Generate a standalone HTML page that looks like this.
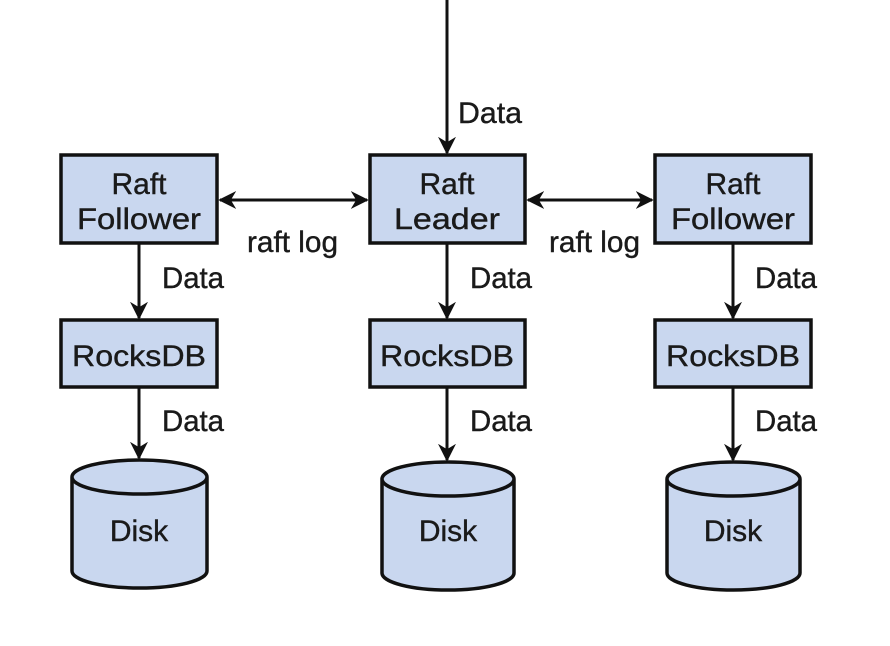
<!DOCTYPE html>
<html><head><meta charset="utf-8"><style>html,body{margin:0;padding:0;background:#fff}svg{display:block}</style></head><body>
<svg width="890" height="646" viewBox="0 0 890 646" xmlns="http://www.w3.org/2000/svg" font-family="Liberation Sans, sans-serif" font-size="30" fill="#1a1a1a">
<defs>
<marker id="a" viewBox="0 0 10 10" refX="9" refY="5" markerWidth="6" markerHeight="6" orient="auto-start-reverse" markerUnits="strokeWidth"><path d="M0,0 L10,5 L0,10 L3,5 z" fill="#111"/></marker>
</defs>
<g stroke="#111" stroke-width="3.5" fill="#c9d7ef">
<rect x="61" y="155" width="156" height="88"/>
<rect x="370" y="155" width="155" height="88"/>
<rect x="655" y="155" width="156" height="88"/>
<rect x="61" y="320" width="156" height="67"/>
<rect x="370" y="320" width="155" height="67"/>
<rect x="655" y="320" width="156" height="67"/>
<path d="M72,477 v94 a67.5,17 0 0 0 135,0 v-94 a67.5,17 0 0 0 -135,0 a67.5,17 0 0 0 135,0"/>
<path d="M382,479 v94 a66,17 0 0 0 132,0 v-94 a66,17 0 0 0 -132,0 a66,17 0 0 0 132,0"/>
<path d="M667,479 v94 a66.5,17 0 0 0 133,0 v-94 a66.5,17 0 0 0 -133,0 a66.5,17 0 0 0 133,0"/>
</g>
<g stroke="#111" stroke-width="3" fill="none" marker-end="url(#a)">
<line x1="447" y1="0" x2="447" y2="153"/>
<line x1="139" y1="244" x2="139" y2="318"/>
<line x1="447" y1="244" x2="447" y2="318"/>
<line x1="733" y1="244" x2="733" y2="318"/>
<line x1="139" y1="388" x2="139" y2="458"/>
<line x1="447" y1="388" x2="447" y2="460"/>
<line x1="733" y1="388" x2="733" y2="460"/>
<line x1="220" y1="200" x2="367" y2="200" marker-start="url(#a)"/>
<line x1="528" y1="200" x2="652" y2="200" marker-start="url(#a)"/>
</g>
<g text-anchor="middle" stroke="#1a1a1a" stroke-width="0.4">
<text x="139" y="194">Raft</text><text x="139" y="229" textLength="124" lengthAdjust="spacingAndGlyphs">Follower</text>
<text x="447" y="194">Raft</text><text x="447" y="229" textLength="106" lengthAdjust="spacingAndGlyphs">Leader</text>
<text x="733" y="194">Raft</text><text x="733" y="229" textLength="124" lengthAdjust="spacingAndGlyphs">Follower</text>
<text x="139" y="366" textLength="134" lengthAdjust="spacingAndGlyphs">RocksDB</text>
<text x="447" y="366" textLength="134" lengthAdjust="spacingAndGlyphs">RocksDB</text>
<text x="733" y="366" textLength="134" lengthAdjust="spacingAndGlyphs">RocksDB</text>
<text x="139" y="541">Disk</text><text x="448" y="541">Disk</text><text x="733" y="541">Disk</text>
</g>
<g stroke="#1a1a1a" stroke-width="0.4">
<text x="458" y="123" textLength="64" lengthAdjust="spacingAndGlyphs">Data</text>
<text x="162" y="288" textLength="62" lengthAdjust="spacingAndGlyphs">Data</text>
<text x="470" y="288" textLength="62" lengthAdjust="spacingAndGlyphs">Data</text>
<text x="755" y="288" textLength="62" lengthAdjust="spacingAndGlyphs">Data</text>
<text x="162" y="431" textLength="62" lengthAdjust="spacingAndGlyphs">Data</text>
<text x="470" y="431" textLength="62" lengthAdjust="spacingAndGlyphs">Data</text>
<text x="755" y="431" textLength="62" lengthAdjust="spacingAndGlyphs">Data</text>
<text x="247" y="252" textLength="91" lengthAdjust="spacingAndGlyphs">raft log</text>
<text x="549" y="252" textLength="91" lengthAdjust="spacingAndGlyphs">raft log</text>
</g>
</svg>
</body></html>
